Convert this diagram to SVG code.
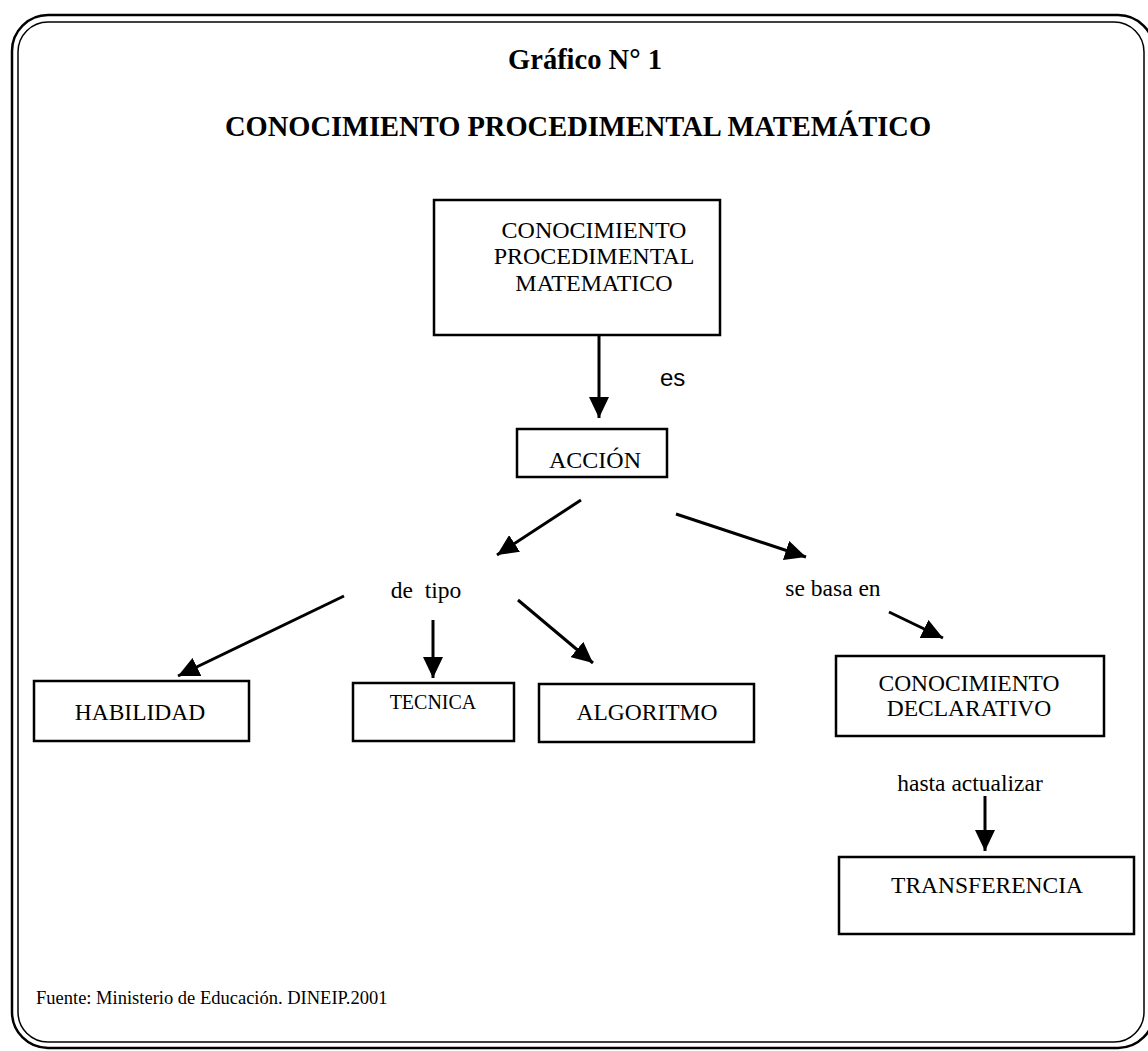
<svg xmlns="http://www.w3.org/2000/svg" width="1148" height="1051" viewBox="0 0 1148 1051">
<defs>
<style>
.frame{fill:none;stroke:#000}
.box{fill:#fff;stroke:#000;stroke-width:2.5}
.t{font-family:"Liberation Serif","Times New Roman",serif;fill:#000;text-anchor:middle}
.b{font-weight:bold}
.s{font-family:"Liberation Sans",Arial,sans-serif;fill:#000}
.c{stroke:#000;stroke-width:3;fill:none;marker-end:url(#ah)}
</style>
<marker id="ah" markerUnits="userSpaceOnUse" markerWidth="22" markerHeight="20" refX="21" refY="10" orient="auto">
<path d="M0,0 L21,10 L0,20 z" fill="#000"/>
</marker>
</defs>
<rect width="1148" height="1051" fill="#fff"/>
<g id="frame">
<rect class="frame" x="12" y="15" width="1142" height="1033" rx="36" ry="36" stroke-width="2.5"/>
<rect class="frame" x="18" y="22" width="1126" height="1020" rx="30" ry="30" stroke-width="1.5"/>
</g>
<g id="titles">
<text class="t b" x="585" y="69" font-size="28.5">Gráfico N° 1</text>
<text class="t b" x="578" y="136" font-size="28.5">CONOCIMIENTO PROCEDIMENTAL MATEMÁTICO</text>
</g>
<g id="connectors">
<line class="c" x1="599" y1="335" x2="599" y2="418"/>
<line class="c" x1="581" y1="500" x2="497" y2="555"/>
<line class="c" x1="676" y1="514" x2="806" y2="557"/>
<line class="c" x1="344" y1="596" x2="178" y2="676"/>
<line class="c" x1="433" y1="620" x2="433" y2="678"/>
<line class="c" x1="518" y1="600" x2="593" y2="663"/>
<line class="c" x1="889" y1="612" x2="943" y2="638"/>
<line class="c" x1="985" y1="796" x2="985" y2="851"/>
</g>
<g id="labels">
<text class="s" x="660" y="386" font-size="24">es</text>
<text class="t" x="426" y="598" font-size="23.5" word-spacing="6">de tipo</text>
<text class="t" x="833" y="596" font-size="23.5">se basa en</text>
<text class="t" x="970" y="791" font-size="23.5">hasta actualizar</text>
</g>
<g id="node-conocimiento-procedimental">
<rect class="box" x="434" y="200" width="286" height="135"/>
<text class="t" x="594" y="238" font-size="24">CONOCIMIENTO</text>
<text class="t" x="594" y="264" font-size="24">PROCEDIMENTAL</text>
<text class="t" x="594" y="291" font-size="24">MATEMATICO</text>
</g>
<g id="node-accion">
<rect class="box" x="517" y="429" width="150" height="48"/>
<text class="t" x="595" y="468" font-size="24">ACCIÓN</text>
</g>
<g id="node-habilidad">
<rect class="box" x="34" y="681" width="215" height="60"/>
<text class="t" x="140" y="720" font-size="23.5">HABILIDAD</text>
</g>
<g id="node-tecnica">
<rect class="box" x="353" y="683" width="161" height="58"/>
<text class="t" x="433" y="709" font-size="20">TECNICA</text>
</g>
<g id="node-algoritmo">
<rect class="box" x="539" y="684" width="215" height="58"/>
<text class="t" x="647" y="720" font-size="23.5">ALGORITMO</text>
</g>
<g id="node-conocimiento-declarativo">
<rect class="box" x="836" y="656" width="268" height="80"/>
<text class="t" x="969" y="691" font-size="23.5">CONOCIMIENTO</text>
<text class="t" x="969" y="716" font-size="23.5">DECLARATIVO</text>
</g>
<g id="node-transferencia">
<rect class="box" x="839" y="857" width="295" height="77"/>
<text class="t" x="987" y="893" font-size="23.5">TRANSFERENCIA</text>
</g>
<g id="source">
<text class="t" x="36" y="1004" font-size="18.5" style="text-anchor:start">Fuente: Ministerio de Educación. DINEIP.2001</text>
</g>
</svg>
